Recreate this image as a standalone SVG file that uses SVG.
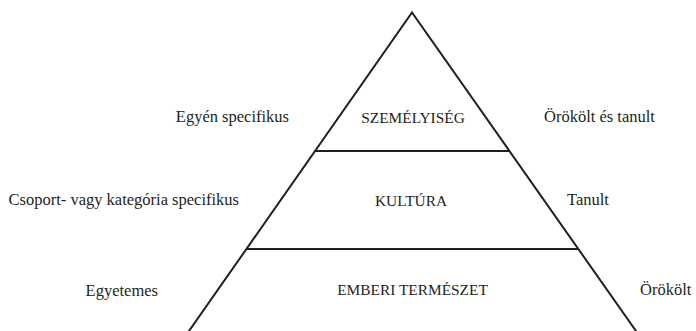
<svg xmlns="http://www.w3.org/2000/svg" width="696" height="331" viewBox="0 0 696 331">
  <style>
    .ln { fill: none; stroke: #231f20; stroke-width: 2; stroke-linejoin: miter; }
    .t { fill: #231f20; font-family: "Liberation Serif", "Times New Roman", serif; }
    .c { font-size: 15.4px; text-anchor: middle; }
    .s { font-size: 16.5px; }
    .l { text-anchor: end; }
    .r { text-anchor: start; }
  </style>
  <rect width="696" height="331" fill="#ffffff"/>
  <g id="pyramid">
    <polyline class="ln" points="187.6,333 412,12.5 637.4,333"/>
    <line class="ln" x1="315" y1="151" x2="509" y2="151"/>
    <line class="ln" x1="246.5" y1="249" x2="578" y2="249"/>
  </g>
  <g id="connectors"></g>
  <g id="node-szemelyiseg">
    <text class="t c" x="413" y="123">SZEMÉLYISÉG</text>
    <text class="t s l" x="289" y="122">Egyén specifikus</text>
    <text class="t s r" x="544" y="122">Örökölt és tanult</text>
  </g>
  <g id="node-kultura">
    <text class="t c" x="411" y="206">KULTÚRA</text>
    <text class="t s l" x="239" y="205">Csoport- vagy kategória specifikus</text>
    <text class="t s r" x="567" y="205">Tanult</text>
  </g>
  <g id="node-emberi-termeszet">
    <text class="t c" x="412.5" y="295">EMBERI TERMÉSZET</text>
    <text class="t s l" x="158" y="296">Egyetemes</text>
    <text class="t s r" x="640" y="295">Örökölt</text>
  </g>
</svg>
